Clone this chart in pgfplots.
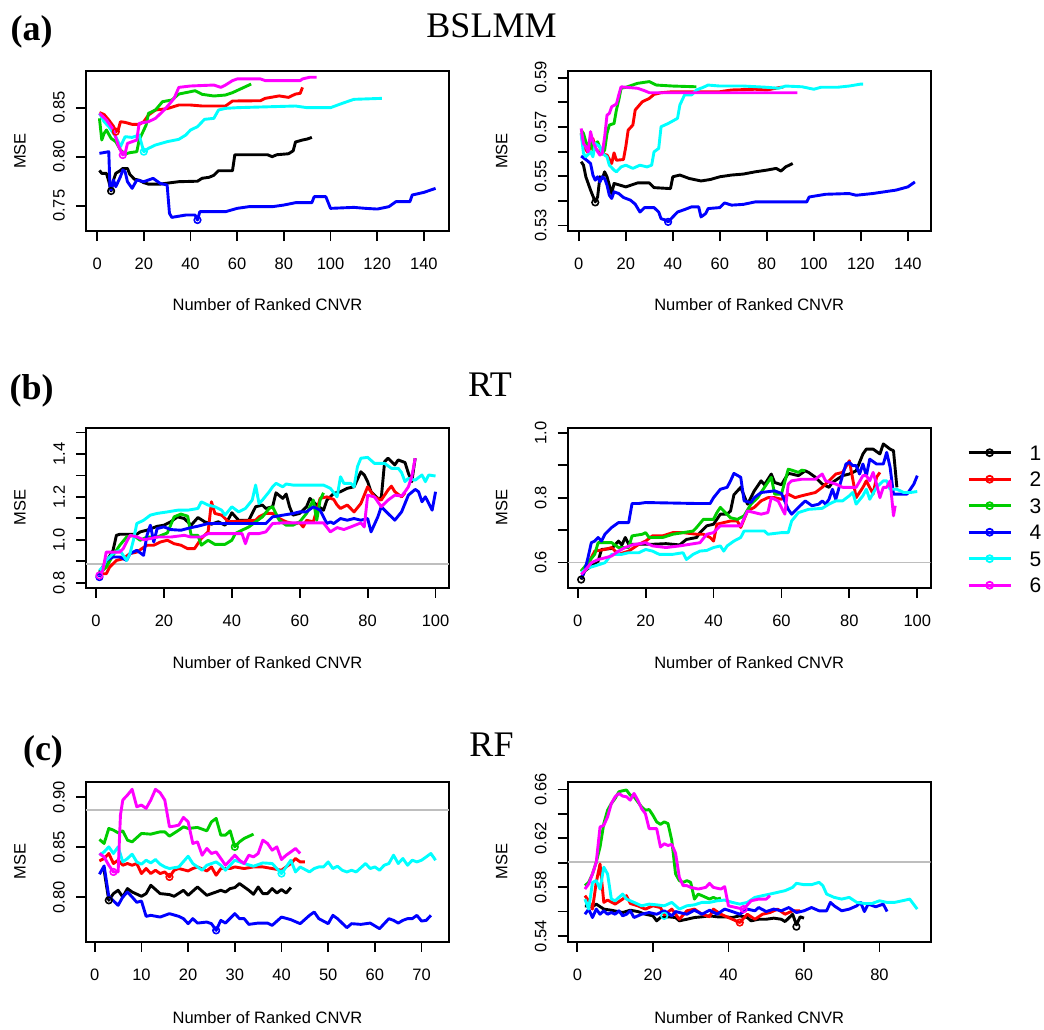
\documentclass[border=0pt]{standalone}
\usepackage{pgfplots}
\pgfplotsset{compat=1.18}
\usepackage{fontspec}
\setmainfont{Liberation Serif}
\newfontfamily\arial{Liberation Sans}
\definecolor{rblack}{HTML}{000000}
\definecolor{rred}{HTML}{FF0000}
\definecolor{rgreen}{HTML}{00CD00}
\definecolor{rblue}{HTML}{0000FF}
\definecolor{rcyan}{HTML}{00FFFF}
\definecolor{rmag}{HTML}{FF00FF}
\definecolor{rgray}{HTML}{BEBEBE}
\pgfplotsset{
  rpanel/.style={
    scale only axis, width=363pt, height=160pt,
    anchor=north west,
    axis line style={line width=2pt},
    tick align=outside,
    xtick pos=left, ytick pos=left,
    major tick length=10pt,
    tick style={line width=1.8pt, black},
    /pgf/number format/assume math mode=true,
    tick label style={font=\arial\fontsize{16.5}{18}\selectfont, inner sep=0pt},
    xticklabel style={anchor=north},
    yticklabel style={rotate=90, anchor=south},
    xticklabel shift=17pt,
    yticklabel shift=11pt,
    label style={font=\arial\fontsize{16.5}{18}\selectfont},
    xlabel={Number of Ranked CNVR}, ylabel={MSE},
    xlabel style={at={([yshift=-74pt]axis description cs:0.5,0)}, anchor=center},
    ylabel style={at={([xshift=-66pt]axis description cs:0,0.5)}, anchor=center},
    every axis plot/.append style={line width=2.9pt, line join=round},
  },
  minmark/.style={only marks, mark=o, mark size=3.3pt, mark options={line width=1.6pt, solid}},
}
\begin{document}
\begin{tikzpicture}[x=1pt,y=1pt]
\path[use as bounding box] (0,0) rectangle (1044,-1029);
\node[anchor=base, font=\bfseries\fontsize{36}{40}\selectfont, inner sep=0pt] at (31.5,-40.5) {(a)};
\node[anchor=base, font=\fontsize{36}{40}\selectfont, inner sep=0pt] at (491.5,-37) {BSLMM};
\node[anchor=base, font=\bfseries\fontsize{36}{40}\selectfont, inner sep=0pt] at (31.7,-399) {(b)};
\node[anchor=base, font=\fontsize{36}{40}\selectfont, inner sep=0pt] at (490,-396.7) {RT};
\node[anchor=base, font=\bfseries\fontsize{36}{40}\selectfont, inner sep=0pt] at (43,-760) {(c)};
\node[anchor=base, font=\fontsize{36}{40}\selectfont, inner sep=0pt] at (491.5,-756.7) {RF};

% ---------------- (a) left ----------------
\begin{axis}[rpanel, at={(86pt,-71pt)},
  xmin=-4.76, xmax=150.76, ymin=0.7242, ymax=0.8874,
  xtick={0,20,40,60,80,100,120,140}, xticklabels={0,20,40,60,80,100,120,140},
  ytick={0.75,0.80,0.85}, yticklabels={0.75,0.80,0.85}]
\addplot[rblack] coordinates {(1,0.786)(2,0.783)(4,0.783)(5,0.775)(6,0.765)(7,0.776)(8,0.783)(10,0.786)(11,0.788)(13,0.788)(14,0.782)(16,0.777)(18,0.776)(20,0.7735)(22,0.772)(27,0.772)(30,0.773)(35,0.7745)(43,0.775)(45,0.778)(48,0.779)(50,0.781)(52,0.7857)(58,0.7857)(59,0.802)(73,0.802)(75,0.800)(77,0.802)(82,0.803)(84,0.806)(85,0.815)(88,0.817)(90,0.818)(92,0.8197)};
\addplot[rred] coordinates {(1,0.845)(3,0.843)(5,0.8374)(7,0.831)(8,0.8255)(9,0.827)(10,0.8357)(12,0.835)(15,0.833)(18,0.833)(20,0.8357)(22,0.8425)(25,0.8476)(30,0.849)(35,0.8527)(40,0.8527)(45,0.8517)(55,0.8517)(58,0.8568)(70,0.8571)(72,0.8595)(78,0.862)(82,0.8605)(85,0.8639)(87,0.8646)(88,0.8707)};
\addplot[rgreen] coordinates {(1,0.8391)(2,0.817)(3,0.8238)(4,0.8272)(6,0.8187)(8,0.8153)(10,0.8068)(12,0.8027)(14,0.8041)(17,0.8051)(18,0.817)(20,0.8272)(21,0.8323)(22,0.8442)(25,0.8476)(28,0.8561)(32,0.8578)(35,0.8639)(40,0.8663)(42,0.8673)(45,0.8636)(50,0.8619)(55,0.8629)(58,0.8653)(62,0.8697)(66,0.8741)};
\addplot[rblue] coordinates {(1,0.8034)(5,0.8051)(5.5,0.7694)(6,0.766)(7,0.7762)(8,0.7694)(10,0.7796)(11,0.7864)(12,0.7847)(13,0.7745)(15,0.7677)(17,0.7762)(20,0.7745)(22,0.7762)(24,0.7779)(27,0.7728)(30,0.7711)(31,0.7422)(32,0.7381)(38,0.7405)(42,0.7405)(43,0.7354)(44,0.7439)(55,0.7439)(60,0.7473)(65,0.749)(75,0.749)(80,0.7507)(85,0.7531)(92,0.7531)(93,0.7592)(98,0.7592)(100,0.7473)(110,0.7483)(115,0.7473)(120,0.7466)(125,0.749)(128,0.7541)(134,0.7541)(135,0.7609)(140,0.7636)(145,0.7677)};
\addplot[rcyan] coordinates {(1,0.8442)(3,0.8357)(5,0.8306)(8,0.8204)(10,0.8102)(12,0.8204)(15,0.8197)(18,0.8221)(20,0.8051)(22,0.8085)(25,0.8119)(30,0.8153)(35,0.8177)(38,0.8221)(40,0.8272)(43,0.8306)(46,0.8381)(50,0.8391)(52,0.8476)(55,0.8493)(60,0.85)(85,0.8517)(90,0.85)(100,0.85)(105,0.8544)(110,0.8585)(122,0.8595)};
\addplot[rmag] coordinates {(1,0.8442)(4,0.8374)(7,0.8272)(9,0.8119)(11,0.8017)(12,0.8034)(13,0.8136)(17,0.817)(18,0.834)(22,0.8357)(25,0.8391)(28,0.8459)(30,0.851)(33,0.8595)(35,0.8707)(40,0.8721)(50,0.8731)(53,0.8707)(55,0.8731)(58,0.8776)(60,0.8793)(70,0.8793)(72,0.8776)(87,0.8776)(88,0.8793)(91,0.881)(94,0.881)};
\addplot[rblack, minmark] coordinates {(6,0.765)};
\addplot[rred, minmark] coordinates {(8,0.8255)};
\addplot[rblue, minmark] coordinates {(43,0.7354)};
\addplot[rcyan, minmark] coordinates {(20,0.8051)};
\addplot[rmag, minmark] coordinates {(11,0.8017)};
\end{axis}

% ---------------- (a) right ----------------
\begin{axis}[rpanel, at={(567.7pt,-71pt)},
  xmin=-4.72, xmax=149.72, ymin=0.5278, ymax=0.5927,
  xtick={0,20,40,60,80,100,120,140}, xticklabels={0,20,40,60,80,100,120,140},
  ytick={0.53,0.54,0.55,0.56,0.57,0.58,0.59}, yticklabels={0.53,,0.55,,0.57,,0.59}]
\addplot[rblack] coordinates {(1,0.5559)(2,0.5545)(3,0.5498)(5,0.5444)(7,0.5396)(8,0.5416)(9,0.5498)(10,0.5491)(11,0.5518)(12,0.5498)(14,0.543)(15,0.5471)(20,0.5457)(25,0.5473)(30,0.5473)(32,0.5454)(39,0.545)(40,0.5498)(43,0.5505)(47,0.5491)(52,0.5481)(56,0.5487)(60,0.5498)(65,0.5505)(70,0.5509)(75,0.5518)(80,0.5525)(84,0.5532)(86,0.5521)(88,0.5538)(91,0.5552)};
\addplot[rred] coordinates {(1,0.5674)(2,0.562)(4,0.5595)(6,0.5653)(7,0.5613)(9,0.5593)(12,0.5586)(14,0.5552)(15,0.5595)(16,0.5565)(19,0.5568)(20,0.562)(21,0.5687)(23,0.5708)(24,0.5769)(27,0.5802)(30,0.5816)(32,0.5832)(35,0.5839)(40,0.5843)(60,0.5843)(65,0.585)(75,0.5853)(80,0.585)(86,0.5861)(87,0.5861)};
\addplot[rgreen] coordinates {(1,0.5687)(2,0.5674)(3,0.564)(4,0.562)(5,0.564)(6,0.5606)(7,0.5633)(8,0.564)(10,0.5593)(11,0.5606)(12,0.5674)(13,0.5708)(15,0.5714)(16,0.5769)(17,0.5809)(18,0.5857)(20,0.5861)(25,0.5877)(30,0.5884)(33,0.587)(40,0.5866)(50,0.5863)};
\addplot[rblue] coordinates {(1,0.5582)(3,0.5568)(5,0.5552)(6,0.5505)(7,0.5484)(8,0.5498)(9,0.5477)(10,0.5498)(11,0.5491)(12,0.5464)(13,0.5423)(14,0.541)(15,0.5437)(17,0.543)(19,0.5414)(22,0.5403)(24,0.5387)(26,0.5355)(28,0.5373)(32,0.5373)(34,0.5355)(35,0.5328)(37,0.5322)(38,0.5315)(40,0.5335)(42,0.5355)(45,0.5365)(48,0.5376)(51,0.5376)(52,0.5335)(54,0.5349)(55,0.5369)(60,0.5373)(62,0.5392)(65,0.5383)(70,0.5386)(75,0.5396)(97,0.5396)(98,0.5416)(105,0.5427)(115,0.543)(118,0.5423)(125,0.543)(130,0.5437)(135,0.5444)(140,0.5457)(143,0.5477)};
\addplot[rcyan] coordinates {(1,0.5674)(2,0.5593)(3,0.5579)(5,0.5599)(6,0.5579)(7,0.5633)(9,0.562)(10,0.5593)(12,0.5579)(13,0.5545)(15,0.5525)(16,0.5518)(18,0.5538)(20,0.5545)(23,0.5532)(26,0.5545)(29,0.5538)(31,0.5545)(32,0.5599)(34,0.5613)(35,0.5701)(38,0.5714)(42,0.5735)(43,0.5789)(45,0.583)(48,0.583)(50,0.585)(53,0.5861)(55,0.587)(60,0.5866)(70,0.5866)(80,0.5861)(85,0.5857)(88,0.5866)(95,0.5863)(100,0.5853)(103,0.5861)(110,0.5861)(115,0.5866)(120,0.5874)(121,0.5874)};
\addplot[rmag] coordinates {(1,0.5694)(2,0.5633)(3,0.562)(4,0.5599)(5,0.5681)(6,0.564)(8,0.56)(9,0.5586)(10,0.5593)(11,0.566)(12,0.5748)(13,0.5755)(14,0.5782)(16,0.5793)(17,0.583)(18,0.5863)(20,0.5861)(25,0.5857)(28,0.5847)(30,0.5839)(93,0.5839)};
\addplot[rblack, minmark] coordinates {(7,0.5394)};
\addplot[rblue, minmark] coordinates {(38,0.5315)};
\end{axis}

% ---------------- (b) left ----------------
\begin{axis}[rpanel, at={(86pt,-427.5pt)},
  xmin=-2.96, xmax=103.96, ymin=0.778, ymax=1.523,
  xtick={0,20,40,60,80,100}, xticklabels={0,20,40,60,80,100},
  ytick={0.8,0.9,1.0,1.1,1.2,1.3,1.4,1.5}, yticklabels={0.8,,1.0,,1.2,,1.4,},
  xlabel style={at={([yshift=-75pt]axis description cs:0.5,0)}}]
\addplot[rgray, line width=1.8pt] coordinates {(-2.96,0.889)(103.96,0.889)};
\addplot[rblack] coordinates {(1,0.85)(3,0.897)(5,0.951)(6,1.021)(7,1.026)(12,1.026)(13,1.037)(15,1.045)(18,1.063)(20,1.068)(22,1.084)(24,1.107)(26,1.099)(28,1.068)(30,1.104)(32,1.084)(34,1.073)(36,1.084)(38,1.068)(40,1.126)(42,1.091)(45,1.091)(47,1.154)(49,1.162)(50,1.146)(52,1.154)(53,1.219)(55,1.193)(56,1.213)(57,1.154)(58,1.115)(60,1.123)(62,1.154)(63,1.193)(65,1.162)(67,1.138)(68,1.185)(70,1.216)(72,1.224)(74,1.24)(76,1.247)(78,1.317)(79,1.302)(80,1.271)(81,1.224)(83,1.193)(84,1.193)(85,1.364)(86,1.38)(88,1.349)(89,1.372)(91,1.36)(92,1.31)(93,1.271)(94,1.38)};
\addplot[rred] coordinates {(1,0.842)(3,0.842)(4,0.873)(6,0.904)(8,0.912)(10,0.936)(12,0.943)(15,0.975)(17,0.975)(19,0.99)(21,0.998)(23,0.982)(25,0.975)(27,0.959)(29,0.959)(31,1.006)(33,1.037)(34,1.177)(35,1.123)(37,1.115)(39,1.084)(47,1.091)(48,1.107)(50,1.123)(52,1.123)(54,1.099)(56,1.084)(58,1.076)(60,1.079)(61,1.06)(62,1.091)(64,1.084)(66,1.193)(68,1.2)(70,1.188)(71,1.162)(72,1.146)(74,1.162)(76,1.13)(78,1.169)(80,1.247)(82,1.2)(84,1.185)(86,1.232)(87,1.25)(88,1.224)(90,1.2)(91,1.219)};
\addplot[rgreen] coordinates {(1,0.842)(3,0.873)(5,0.928)(7,0.975)(9,1.013)(11,1.021)(13,0.998)(15,1.013)(18,1.013)(21,1.032)(23,1.107)(25,1.12)(27,1.11)(28,1.021)(30,1.021)(31,0.975)(33,0.998)(35,0.979)(38,0.979)(40,0.998)(41,1.029)(43,1.045)(45,1.06)(47,1.084)(49,1.107)(51,1.146)(52,1.154)(54,1.091)(56,1.068)(58,1.068)(60,1.084)(62,1.123)(63,1.154)(64,1.185)(65,1.091)(66,1.185)(67,1.219)};
\addplot[rblue] coordinates {(1,0.8265)(2,0.8733)(3,0.9044)(5,0.92)(7,0.92)(9,0.9044)(10,0.9356)(12,0.9512)(14,0.9278)(15,1.0213)(16,1.0681)(17,0.9901)(18,1.0525)(20,1.0603)(22,1.0478)(25,1.0447)(28,1.0572)(30,1.0634)(33,1.0759)(50,1.0759)(52,1.107)(55,1.1148)(58,1.1226)(60,1.1304)(62,1.1304)(64,1.1538)(66,1.1382)(68,1.0759)(69,1.0837)(70,1.0759)(72,1.0992)(74,1.0914)(76,1.0992)(78,1.0914)(80,1.0992)(81,1.0369)(83,1.107)(84,1.1538)(86,1.1226)(88,1.0914)(90,1.1304)(92,1.2083)(94,1.2348)(95,1.2239)(96,1.1772)(97,1.2005)(99,1.1382)(100,1.2239)};
\addplot[rcyan] coordinates {(1,0.858)(2,0.873)(3,0.904)(5,0.936)(7,0.951)(9,0.904)(10,0.936)(11,0.998)(12,1.076)(14,1.091)(16,1.115)(18,1.123)(21,1.13)(24,1.138)(27,1.138)(30,1.146)(31,1.177)(33,1.162)(35,1.154)(37,1.138)(38,1.115)(40,1.154)(42,1.13)(44,1.146)(46,1.185)(47,1.255)(48,1.169)(49,1.185)(51,1.224)(52,1.247)(53,1.263)(55,1.247)(56,1.26)(58,1.255)(67,1.255)(69,1.24)(71,1.2)(72,1.294)(73,1.263)(75,1.263)(76,1.247)(77,1.341)(78,1.38)(80,1.384)(82,1.356)(85,1.356)(87,1.333)(89,1.333)(90,1.313)(91,1.271)(92,1.286)(94,1.278)(96,1.302)(97,1.271)(98,1.302)(100,1.297)};
\addplot[rmag] coordinates {(1,0.834)(2,0.858)(3,0.943)(7,0.943)(8,0.959)(10,1.021)(12,1.014)(14,1.0)(16,1.006)(18,1.013)(22,1.013)(26,1.021)(28,1.013)(31,1.013)(33,1.029)(43,1.029)(44,0.982)(45,1.029)(48,1.029)(50,1.037)(52,1.076)(55,1.079)(67,1.079)(69,1.037)(71,1.057)(73,1.048)(75,1.06)(78,1.079)(79,1.06)(80,1.208)(82,1.2)(84,1.154)(86,1.185)(88,1.208)(90,1.204)(91,1.224)(92,1.247)(93,1.294)(94,1.38)};
\addplot[rblue, minmark] coordinates {(1,0.8265)};
\addplot[rmag, minmark] coordinates {(1,0.834)};
\end{axis}

% ---------------- (b) right ----------------
\begin{axis}[rpanel, at={(567.7pt,-427.5pt)},
  xmin=-2.96, xmax=103.96, ymin=0.5225, ymax=1.0167,
  xtick={0,20,40,60,80,100}, xticklabels={0,20,40,60,80,100},
  ytick={0.6,0.7,0.8,0.9,1.0}, yticklabels={0.6,,0.8,,1.0},
  xlabel style={at={([yshift=-75pt]axis description cs:0.5,0)}},
  legend style={at={(axis description cs:1,1)}, anchor=north west, xshift=36.3pt, yshift=-17.5pt,
    draw=none, fill=none, inner sep=0pt, row sep=11.5pt,
    nodes={inner sep=0pt, text height=15pt, text depth=0pt},
    font=\arial\fontsize{21}{24}\selectfont,
    /tikz/every odd column/.append style={column sep=17.5pt}},
  legend cell align=left,
  legend image code/.code={\draw[mark repeat=2,mark phase=2,#1] plot coordinates {(0pt,0pt) (21pt,0pt) (42pt,0pt)};}]
\addplot[rgray, line width=1.8pt, forget plot] coordinates {(-2.96,0.6)(103.96,0.6)};
\addplot[rblack, forget plot] coordinates {(1,0.547)(2,0.573)(4,0.589)(6,0.604)(7,0.64)(10,0.643)(12,0.666)(13,0.654)(14,0.677)(15,0.656)(18,0.656)(22,0.656)(26,0.658)(30,0.654)(32,0.671)(35,0.677)(36,0.692)(38,0.713)(40,0.718)(42,0.749)(44,0.749)(45,0.759)(46,0.809)(48,0.832)(50,0.78)(52,0.821)(54,0.852)(55,0.84)(57,0.873)(58,0.847)(60,0.84)(62,0.875)(63,0.873)(65,0.868)(67,0.883)(68,0.878)(70,0.863)(72,0.842)(74,0.832)(75,0.847)(78,0.868)(80,0.873)(82,0.883)(84,0.935)(85,0.95)(87,0.95)(89,0.935)(90,0.966)(92,0.95)(93,0.945)(94,0.832)};
\addplot[rred, forget plot] coordinates {(1,0.573)(3,0.594)(5,0.635)(8,0.64)(10,0.646)(12,0.625)(15,0.635)(18,0.656)(20,0.666)(22,0.682)(25,0.682)(28,0.692)(31,0.692)(35,0.687)(37,0.687)(39,0.677)(40,0.666)(41,0.718)(43,0.723)(45,0.728)(47,0.728)(48,0.708)(50,0.759)(52,0.77)(54,0.79)(56,0.8)(58,0.8)(60,0.795)(62,0.811)(64,0.8)(66,0.806)(68,0.811)(70,0.816)(72,0.832)(74,0.852)(76,0.873)(78,0.878)(80,0.914)(82,0.8)(84,0.832)(85,0.852)(87,0.811)(88,0.863)(89,0.878)};
\addplot[rgreen, forget plot] coordinates {(1,0.573)(3,0.599)(5,0.625)(6,0.661)(10,0.661)(12,0.646)(15,0.646)(16,0.682)(19,0.687)(20,0.692)(21,0.677)(25,0.677)(28,0.687)(31,0.692)(34,0.697)(35,0.708)(37,0.733)(40,0.733)(41,0.754)(42,0.77)(43,0.759)(45,0.738)(47,0.733)(49,0.744)(51,0.78)(53,0.8)(55,0.832)(57,0.863)(58,0.811)(60,0.811)(62,0.888)(63,0.885)(65,0.878)(66,0.885)(67,0.883)};
\addplot[rblue, forget plot] coordinates {(1,0.552)(2,0.573)(3,0.614)(4,0.661)(5,0.666)(6,0.677)(7,0.666)(8,0.687)(10,0.708)(12,0.723)(15,0.723)(16,0.782)(18,0.782)(20,0.785)(30,0.783)(35,0.782)(39,0.782)(40,0.8)(42,0.826)(44,0.832)(45,0.852)(46,0.875)(48,0.863)(49,0.79)(51,0.785)(52,0.8)(54,0.816)(58,0.821)(60,0.813)(62,0.764)(63,0.749)(65,0.77)(67,0.79)(69,0.775)(71,0.78)(72,0.79)(73,0.78)(74,0.795)(75,0.826)(76,0.795)(77,0.832)(78,0.868)(79,0.904)(80,0.909)(81,0.899)(82,0.899)(83,0.873)(84,0.904)(85,0.868)(86,0.919)(88,0.904)(90,0.904)(91,0.94)(92,0.894)(93,0.811)(95,0.811)(97,0.811)(99,0.842)(100,0.868)};
\addplot[rcyan, forget plot] coordinates {(1,0.568)(3,0.583)(5,0.589)(8,0.599)(10,0.625)(13,0.625)(15,0.63)(18,0.63)(20,0.64)(22,0.635)(24,0.625)(28,0.625)(31,0.63)(32,0.609)(34,0.625)(36,0.635)(38,0.637)(40,0.646)(42,0.651)(43,0.635)(44,0.651)(46,0.666)(48,0.677)(49,0.697)(55,0.697)(56,0.687)(60,0.692)(62,0.692)(63,0.728)(65,0.754)(68,0.764)(72,0.767)(74,0.78)(76,0.79)(78,0.79)(80,0.806)(81,0.816)(82,0.78)(84,0.806)(85,0.826)(86,0.795)(88,0.832)(90,0.852)(91,0.852)(92,0.826)(94,0.826)(96,0.816)(98,0.816)(100,0.819)};
\addplot[rmag, forget plot] coordinates {(1,0.563)(2,0.573)(4,0.599)(6,0.609)(8,0.614)(10,0.62)(12,0.635)(14,0.646)(16,0.654)(20,0.661)(22,0.651)(26,0.646)(30,0.651)(33,0.656)(36,0.661)(38,0.687)(40,0.692)(42,0.713)(48,0.713)(50,0.759)(52,0.754)(54,0.749)(56,0.754)(57,0.8)(59,0.79)(61,0.749)(62,0.842)(63,0.852)(66,0.857)(70,0.857)(72,0.873)(73,0.852)(76,0.842)(78,0.832)(82,0.832)(84,0.868)(85,0.868)(86,0.852)(87,0.878)(88,0.842)(89,0.8)(90,0.832)(91,0.832)(92,0.852)(93,0.744)(93.5,0.775)};
\addplot[rblack, minmark, forget plot] coordinates {(1,0.547)};
\addlegendimage{rblack, line width=2.9pt, mark=o, mark size=3.5pt, mark options={line width=1.8pt, solid}}
\addlegendentry{1}
\addlegendimage{rred, line width=2.9pt, mark=o, mark size=3.5pt, mark options={line width=1.8pt, solid}}
\addlegendentry{2}
\addlegendimage{rgreen, line width=2.9pt, mark=o, mark size=3.5pt, mark options={line width=1.8pt, solid}}
\addlegendentry{3}
\addlegendimage{rblue, line width=2.9pt, mark=o, mark size=3.5pt, mark options={line width=1.8pt, solid}}
\addlegendentry{4}
\addlegendimage{rcyan, line width=2.9pt, mark=o, mark size=3.5pt, mark options={line width=1.8pt, solid}}
\addlegendentry{5}
\addlegendimage{rmag, line width=2.9pt, mark=o, mark size=3.5pt, mark options={line width=1.8pt, solid}}
\addlegendentry{6}
\end{axis}

% ---------------- (c) left ----------------
\begin{axis}[rpanel, at={(86pt,-781.7pt)},
  xmin=-1.88, xmax=75.88, ymin=0.7557, ymax=0.9153,
  xtick={0,10,20,30,40,50,60,70}, xticklabels={0,10,20,30,40,50,60,70},
  ytick={0.80,0.85,0.90}, yticklabels={0.80,0.85,0.90},
  xlabel style={at={([yshift=-76pt]axis description cs:0.5,0)}}]
\addplot[rgray, line width=1.8pt] coordinates {(-1.88,0.8867)(75.88,0.8867)};
\addplot[rblack] coordinates {(2,0.827)(3,0.797)(4,0.8037)(5,0.807)(6,0.8003)(7,0.8087)(8,0.8053)(10,0.801)(11,0.8037)(12,0.812)(14,0.8037)(16,0.8027)(17,0.801)(19,0.807)(20,0.802)(22,0.8103)(24,0.802)(26,0.8053)(27,0.807)(28,0.8053)(29,0.8087)(30,0.8097)(31,0.8137)(33,0.807)(34,0.803)(35,0.8103)(36,0.8037)(37,0.8037)(38,0.8087)(39,0.8043)(40,0.8077)(41,0.8043)(42,0.8097)};
\addplot[rred] coordinates {(1,0.8363)(2,0.8387)(3,0.8437)(4,0.8337)(5,0.837)(6,0.832)(7,0.8337)(8,0.832)(9,0.8337)(10,0.8237)(11,0.8287)(12,0.8237)(13,0.827)(14,0.8237)(15,0.8253)(16,0.8203)(17,0.827)(18,0.8287)(20,0.8263)(21,0.8287)(22,0.8303)(24,0.8263)(25,0.8303)(26,0.822)(27,0.8287)(29,0.8287)(30,0.8303)(32,0.8287)(34,0.8303)(36,0.8303)(38,0.8287)(40,0.827)(42,0.8337)(43,0.8387)(44,0.8353)(45,0.8353)};
\addplot[rgreen] coordinates {(1,0.8577)(2,0.8537)(3,0.8687)(4,0.867)(5,0.8643)(6,0.8663)(7,0.857)(8,0.8553)(10,0.8637)(12,0.863)(14,0.8653)(15,0.8653)(16,0.861)(18,0.867)(19,0.8703)(20,0.8687)(22,0.8697)(24,0.8663)(25,0.8753)(26,0.8787)(27,0.862)(28,0.862)(29,0.8663)(30,0.8503)(31,0.8553)(32,0.8587)(34,0.863)};
\addplot[rblue] coordinates {(1,0.823)(2,0.8313)(3,0.801)(5,0.792)(6,0.8003)(7,0.8053)(8,0.8003)(9,0.795)(10,0.7963)(11,0.781)(12,0.782)(14,0.7803)(16,0.7837)(18,0.781)(19,0.7787)(20,0.7737)(21,0.7787)(22,0.7743)(24,0.7753)(25,0.7737)(26,0.767)(27,0.777)(28,0.7743)(30,0.7837)(31,0.7787)(32,0.7787)(33,0.773)(35,0.7743)(37,0.7743)(38,0.772)(40,0.7803)(42,0.7777)(44,0.7737)(46,0.782)(47,0.7853)(48,0.7787)(50,0.7737)(51,0.782)(52,0.7787)(54,0.7697)(55,0.7737)(57,0.773)(59,0.7743)(61,0.7687)(63,0.7787)(64,0.777)(65,0.7743)(66,0.777)(67,0.7787)(68,0.7787)(69,0.782)(70,0.7763)(71,0.777)(72,0.782)};
\addplot[rcyan] coordinates {(1,0.842)(2,0.8453)(3,0.8503)(4,0.8437)(5,0.8503)(6,0.8353)(7,0.8387)(8,0.843)(9,0.8353)(10,0.833)(11,0.837)(12,0.8343)(13,0.8377)(14,0.833)(15,0.8303)(16,0.8287)(18,0.8303)(20,0.841)(21,0.8337)(22,0.8303)(23,0.827)(24,0.832)(26,0.8353)(27,0.832)(28,0.827)(30,0.837)(32,0.8337)(34,0.831)(36,0.8343)(38,0.8337)(40,0.8237)(41,0.8303)(42,0.837)(43,0.8253)(44,0.8303)(46,0.8253)(47,0.8287)(48,0.8303)(49,0.8303)(50,0.8353)(51,0.8287)(52,0.831)(53,0.827)(54,0.8253)(55,0.827)(56,0.8253)(58,0.8337)(59,0.8287)(60,0.8303)(61,0.827)(62,0.832)(63,0.8337)(64,0.842)(65,0.8337)(66,0.8387)(67,0.832)(68,0.837)(69,0.8353)(70,0.837)(71,0.8403)(72,0.8437)(73,0.837)};
\addplot[rmag] coordinates {(1,0.8437)(2,0.8403)(3,0.832)(4,0.8253)(5,0.8253)(5.5,0.882)(6,0.897)(7,0.902)(8,0.9077)(9,0.8903)(10,0.892)(11,0.8887)(12,0.897)(13,0.9077)(14,0.9043)(15,0.897)(16,0.8703)(17,0.871)(18,0.872)(19,0.8797)(20,0.8753)(21,0.8537)(22,0.8553)(23,0.842)(24,0.8487)(25,0.8437)(26,0.8453)(27,0.8387)(28,0.832)(29,0.837)(30,0.842)(31,0.837)(32,0.8337)(33,0.842)(34,0.8403)(35,0.8437)(36,0.857)(37,0.8537)(38,0.847)(39,0.8503)(40,0.8377)(41,0.842)(42,0.8453)(43,0.8487)(44,0.8437)};
\addplot[rblack, minmark] coordinates {(3,0.797)};
\addplot[rred, minmark] coordinates {(16,0.8203)};
\addplot[rgreen, minmark] coordinates {(30,0.8503)};
\addplot[rblue, minmark] coordinates {(26,0.767)};
\addplot[rcyan, minmark] coordinates {(40,0.8237)};
\addplot[rmag, minmark] coordinates {(4,0.8253)};
\end{axis}

% ---------------- (c) right ----------------
\begin{axis}[rpanel, at={(567.7pt,-781.7pt)},
  xmin=-2.56, xmax=93.56, ymin=0.5353, ymax=0.6663,
  xtick={0,20,40,60,80}, xticklabels={0,20,40,60,80},
  ytick={0.54,0.56,0.58,0.60,0.62,0.64,0.66}, yticklabels={0.54,,0.58,,0.62,,0.66},
  xlabel style={at={([yshift=-76pt]axis description cs:0.5,0)}}]
\addplot[rgray, line width=1.8pt] coordinates {(-2.56,0.6004)(93.56,0.6004)};
\addplot[rblack] coordinates {(2,0.5647)(4,0.5639)(5,0.5661)(7,0.562)(9,0.5611)(12,0.5592)(14,0.5611)(16,0.56)(18,0.5578)(20,0.5565)(21,0.5524)(22,0.5551)(24,0.5557)(26,0.5551)(27,0.5524)(29,0.5537)(31,0.5551)(33,0.5557)(35,0.5565)(37,0.5557)(39,0.5557)(41,0.5551)(43,0.5565)(45,0.5551)(46,0.5524)(48,0.5537)(50,0.5537)(52,0.5546)(54,0.5537)(55,0.5518)(57,0.5578)(58,0.5491)(59,0.5557)(60,0.5546)};
\addplot[rred] coordinates {(2,0.573)(3,0.5688)(4,0.562)(5,0.5839)(6,0.599)(7,0.5675)(8,0.5694)(10,0.5661)(12,0.5702)(13,0.573)(14,0.5666)(16,0.5647)(18,0.562)(20,0.5647)(22,0.5633)(23,0.5573)(25,0.562)(27,0.5537)(29,0.5606)(31,0.562)(33,0.5578)(35,0.5557)(36,0.562)(38,0.5578)(40,0.5551)(42,0.5524)(43,0.551)(45,0.5578)(47,0.5537)(49,0.5578)(51,0.5592)(53,0.562)(55,0.5578)(57,0.5606)(59,0.5606)};
\addplot[rgreen] coordinates {(2,0.5812)(3,0.5839)(4,0.5908)(5,0.6004)(6,0.6128)(7,0.632)(8,0.643)(9,0.6485)(10,0.6526)(11,0.6581)(12,0.6589)(13,0.6595)(14,0.6553)(15,0.654)(16,0.6498)(17,0.6457)(18,0.643)(19,0.6435)(20,0.6389)(21,0.6334)(22,0.6314)(23,0.6334)(24,0.632)(25,0.6183)(26,0.5908)(27,0.5853)(28,0.5839)(29,0.5853)(30,0.5839)(31,0.5702)(32,0.5743)(33,0.573)(34,0.5716)(35,0.5702)(36,0.5716)(37,0.5702)(38,0.571)};
\addplot[rblue] coordinates {(2,0.5578)(3,0.562)(4,0.5551)(5,0.562)(6,0.5578)(7,0.5606)(8,0.5578)(9,0.5592)(10,0.5578)(11,0.5606)(12,0.5565)(13,0.5578)(14,0.5606)(15,0.5551)(17,0.5578)(19,0.5592)(21,0.5578)(23,0.5606)(25,0.5565)(26,0.56)(27,0.5592)(29,0.5578)(31,0.5611)(33,0.5578)(35,0.5611)(37,0.5578)(39,0.562)(41,0.56)(43,0.5578)(45,0.562)(47,0.5606)(48,0.5633)(50,0.56)(52,0.562)(54,0.5606)(56,0.5633)(58,0.5592)(60,0.5606)(62,0.5633)(64,0.5606)(66,0.5606)(67,0.5675)(68,0.5647)(70,0.5606)(72,0.562)(74,0.5647)(75,0.5675)(76,0.56)(77,0.5661)(79,0.5639)(81,0.5661)(82,0.56)};
\addplot[rcyan] coordinates {(2,0.5702)(3,0.562)(4,0.5839)(5,0.5853)(6,0.5784)(7,0.5963)(8,0.5908)(9,0.5702)(10,0.5688)(11,0.5716)(12,0.5743)(13,0.5702)(15,0.5675)(17,0.5647)(19,0.5661)(21,0.5655)(23,0.5647)(25,0.5675)(27,0.562)(29,0.5647)(31,0.5655)(33,0.5675)(35,0.5675)(37,0.5688)(39,0.5694)(41,0.5675)(43,0.5661)(45,0.5675)(47,0.5716)(49,0.573)(51,0.5743)(53,0.5757)(55,0.5771)(57,0.5798)(58,0.5831)(60,0.582)(62,0.582)(64,0.5839)(65,0.5812)(66,0.5743)(68,0.5716)(70,0.5702)(72,0.5716)(74,0.5675)(76,0.5666)(78,0.5666)(80,0.5688)(82,0.5675)(84,0.5675)(86,0.5688)(88,0.5702)(90,0.562)};
\addplot[rmag] coordinates {(2,0.5784)(3,0.5826)(4,0.5908)(5,0.6004)(6,0.6292)(7,0.6306)(8,0.6375)(9,0.6485)(10,0.654)(11,0.6567)(12,0.6545)(13,0.654)(14,0.6512)(15,0.6567)(16,0.6512)(17,0.6443)(18,0.6402)(19,0.6279)(20,0.6279)(21,0.6279)(22,0.6128)(23,0.6155)(24,0.6141)(25,0.615)(26,0.6078)(27,0.588)(28,0.5812)(29,0.5812)(30,0.5798)(32,0.5784)(34,0.5798)(35,0.5831)(36,0.5798)(38,0.5784)(39,0.5804)(40,0.5647)(42,0.5633)(44,0.562)(46,0.5688)(48,0.5702)(50,0.5702)(51,0.573)};
\addplot[rblack, minmark] coordinates {(58,0.5476)};
\addplot[rred, minmark] coordinates {(43,0.551)};
\addplot[rcyan, minmark] coordinates {(23,0.5565)};
\addplot[rmag, minmark] coordinates {(44,0.562)};
\end{axis}
\end{tikzpicture}
\end{document}
